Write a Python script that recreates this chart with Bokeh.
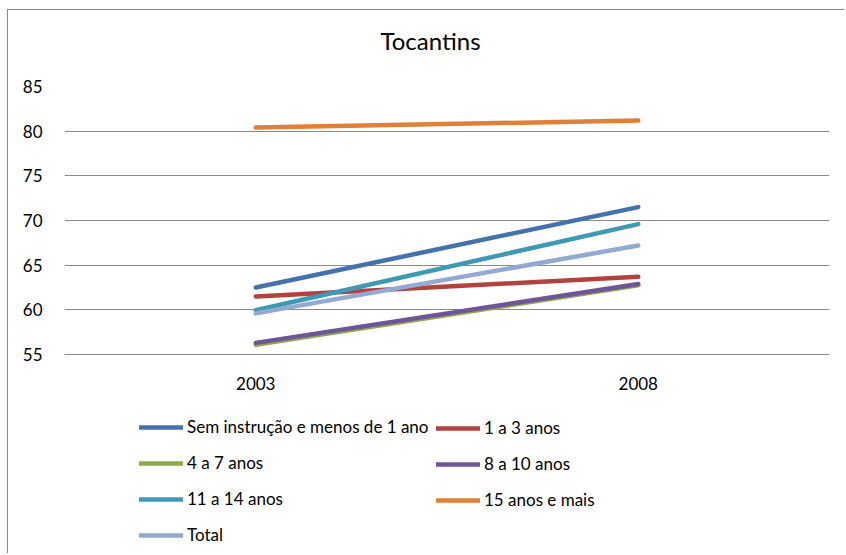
from bokeh.plotting import figure
from bokeh.layouts import column
from bokeh.models import Range1d, FactorRange, SingleIntervalTicker, Legend, LegendItem
from bokeh.embed import file_html
from bokeh.resources import INLINE

title_text = "Tocantins"
years = ["2003", "2008"]

names = [
    "Sem instrução e menos de 1 ano",
    "1 a 3 anos",
    "4 a 7 anos",
    "8 a 10 anos",
    "11 a 14 anos",
    "15 anos e mais",
    "Total",
]
sem_instrucao = [62.5, 71.5]
de_1_a_3 = [61.5, 63.7]
de_4_a_7 = [56.1, 62.75]
de_8_a_10 = [56.3, 62.9]
de_11_a_14 = [59.95, 69.6]
de_15_mais = [80.4, 81.2]
total = [59.6, 67.2]

values = [sem_instrucao, de_1_a_3, de_4_a_7, de_8_a_10, de_11_a_14, de_15_mais, total]
colors = ["#4372AC", "#B3413E", "#8BAA4C", "#6F5597", "#3E9AB4", "#E07F35", "#92A9D1"]

FONT = "Lato"
W = 836

p = figure(
    width=W, height=390,
    x_range=FactorRange(*years, range_padding=0),
    y_range=Range1d(55, 85),
    output_backend="svg", toolbar_location=None,
    min_border_left=56, min_border_right=15, min_border_top=76, min_border_bottom=46,
    background_fill_color="white", border_fill_color="white",
    outline_line_color=None,
)

# a blank second line keeps the title high above the plot area
p.title.text = title_text + "\n "
p.title.align = "left"
p.title.vertical_align = "top"
p.title.offset = 316
p.title.standoff = 2
p.title.text_font = FONT
p.title.text_font_size = "24px"
p.title.text_font_style = "normal"
p.title.text_color = "#000000"

p.xgrid.grid_line_color = None
p.ygrid.grid_line_color = "#8a8a8a"
p.ygrid.grid_line_width = 1.2
p.yaxis.ticker = SingleIntervalTicker(interval=5)
p.yaxis.axis_line_color = None
p.yaxis.major_tick_line_color = None
p.yaxis.minor_tick_line_color = None
p.yaxis.major_label_standoff = 16
p.yaxis.major_label_text_font = FONT
p.yaxis.major_label_text_font_size = "17px"
p.yaxis.major_label_text_color = "#000000"

p.xaxis.axis_line_color = "#8a8a8a"
p.xaxis.axis_line_width = 1.2
p.xaxis.major_tick_line_color = None
p.xaxis.minor_tick_line_color = None
p.xaxis.major_label_standoff = 16
p.xaxis.major_label_text_font = FONT
p.xaxis.major_label_text_font_size = "17px"
p.xaxis.major_label_text_color = "#000000"

for vals, col in zip(values, colors):
    p.line(x=years, y=vals, line_color=col, line_width=4.5, line_cap="round")

# legend panel below the chart (series drawn out of view; only legend keys show)
q = figure(
    width=W, height=153,
    x_range=FactorRange(*years, range_padding=0), y_range=Range1d(0, 1),
    output_backend="svg", toolbar_location=None,
    x_axis_location=None, y_axis_location=None,
    min_border=0, min_border_left=0, min_border_right=0, min_border_top=0, min_border_bottom=0,
    background_fill_color="white", border_fill_color="white",
    outline_line_color=None,
)
q.xgrid.grid_line_color = None
q.ygrid.grid_line_color = None

keys = []
for vals, col in zip(values, colors):
    keys.append(q.line(x=years, y=vals, line_color=col, line_width=4.5, line_cap="round"))

def make_legend(idx, loc):
    return Legend(
        items=[LegendItem(label=names[i], renderers=[keys[i]]) for i in idx],
        location=loc,
        orientation="vertical",
        border_line_color=None,
        background_fill_alpha=0,
        padding=0, margin=0, spacing=15,
        glyph_width=44, glyph_height=20, label_height=20,
        label_standoff=4,
        label_text_font=FONT, label_text_font_size="17px", label_text_color="#000000",
    )

q.add_layout(make_legend([0, 2, 4, 6], (75, 8)), "center")
q.add_layout(make_legend([1, 3, 5], (372, 43)), "center")

page = column(p, q, spacing=0,
              styles={"margin-left": "7px", "margin-top": "9px",
                      "border-left": "1px solid #8a8a8a", "border-top": "1px solid #8a8a8a"})

open("out.html", "w").write(file_html(page, INLINE))
